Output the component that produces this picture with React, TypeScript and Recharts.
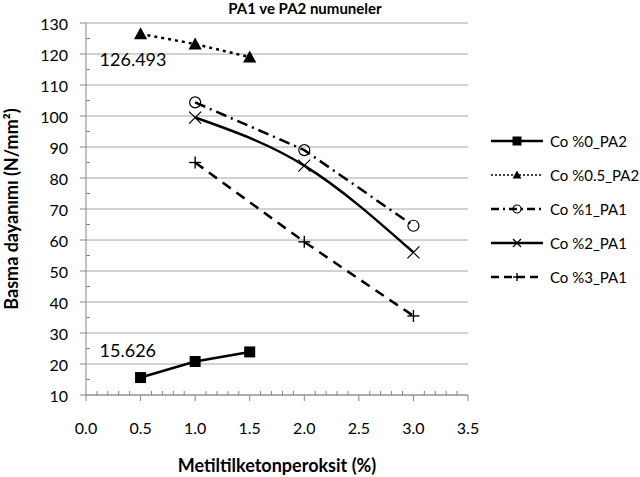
import React from 'react';
import { LineChart, Line, XAxis, YAxis, CartesianGrid, Legend, LabelList } from 'recharts';

const FONT = 'Lato, "Open Sans", sans-serif';
const AXIS = '#868686';

const xPA2 = [0.5, 1.0, 1.5];
const co0PA2 = [15.626, 20.8, 23.9];
const co05PA2 = [126.493, 123.2, 119.0];
const xPA1 = [1.0, 2.0, 3.0];
const co1PA1 = [104.4, 89.0, 64.6];
const co2PA1 = [99.5, 84.0, 56.0];
const co3PA1 = [85.0, 59.4, 35.5];
const yTicks = [10, 20, 30, 40, 50, 60, 70, 80, 90, 100, 110, 120, 130];
const minorX = Array.from({ length: 36 }, (_, i) => i / 10);
const minorY = Array.from({ length: 25 }, (_, i) => 10 + i * 5);

const build = (xs: number[], ys: number[]) => xs.map((x, i) => ({ x, y: ys[i] }));

type MarkerKind = 'square' | 'triangle' | 'circle' | 'x' | 'plus';

const Marker = ({ kind, cx, cy, s }: { kind: MarkerKind; cx: number; cy: number; s: number }) => {
  if (cx == null || cy == null) return null;
  switch (kind) {
    case 'square':
      return <rect x={cx - s} y={cy - s} width={2 * s} height={2 * s} fill="#000" />;
    case 'triangle':
      return <polygon points={`${cx},${cy - s * 1.1} ${cx - s * 1.1},${cy + s * 0.9} ${cx + s * 1.1},${cy + s * 0.9}`} fill="#000" />;
    case 'circle':
      return <circle cx={cx} cy={cy} r={s} fill="none" stroke="#000" strokeWidth={1.2} />;
    case 'x':
      return (
        <g stroke="#000" strokeWidth={1.2}>
          <line x1={cx - s} y1={cy - s} x2={cx + s} y2={cy + s} />
          <line x1={cx - s} y1={cy + s} x2={cx + s} y2={cy - s} />
        </g>
      );
    case 'plus':
      return (
        <g stroke="#000" strokeWidth={1.4}>
          <line x1={cx - s} y1={cy} x2={cx + s} y2={cy} />
          <line x1={cx} y1={cy - s} x2={cx} y2={cy + s} />
        </g>
      );
  }
  return null;
};

const dotOf = (kind: MarkerKind, s: number) => (p: any) => (
  <Marker key={`${kind}-${p.index}`} kind={kind} cx={p.cx} cy={p.cy} s={s} />
);

const seriesDefs = [
  { name: 'Co %0_PA2', data: build(xPA2, co0PA2), dash: undefined, legendDash: undefined, legendW: 2.5, marker: 'square' as MarkerKind, size: 5.5, type: 'linear' },
  { name: 'Co %0.5_PA2', data: build(xPA2, co05PA2), dash: '3 4', legendDash: '2 2', legendW: 1.5, marker: 'triangle' as MarkerKind, size: 6, type: 'linear' },
  { name: 'Co %1_PA1', data: build(xPA1, co1PA1), dash: '11 5 2 5', legendDash: '8 4 2 4', legendW: 2.5, marker: 'circle' as MarkerKind, size: 5.5, type: 'linear' },
  { name: 'Co %2_PA1', data: build(xPA1, co2PA1), dash: undefined, legendDash: undefined, legendW: 2.5, marker: 'x' as MarkerKind, size: 6, type: 'monotone' },
  { name: 'Co %3_PA1', data: build(xPA1, co3PA1), dash: '10 7', legendDash: '8 5', legendW: 2.5, marker: 'plus' as MarkerKind, size: 6, type: 'linear' },
];

const LegendBox = () => (
  <div style={{ fontFamily: FONT, fontSize: 15, color: '#000' }}>
    {seriesDefs.map((s) => (
      <div key={s.name} style={{ display: 'flex', alignItems: 'center', height: 34 }}>
        <svg width={52} height={16}>
          <line x1={0} y1={8} x2={52} y2={8} stroke="#000" strokeWidth={s.legendW} strokeDasharray={s.legendDash} />
          <Marker kind={s.marker} cx={26} cy={8} s={s.marker === 'square' ? 4.5 : 4} />
        </svg>
        <span style={{ marginLeft: 7, whiteSpace: 'nowrap' }}>{s.name}</span>
      </div>
    ))}
  </div>
);

const makeLabel = (dx: number, dy: number) => (p: any) => {
  if (p.index !== 0) return null;
  return (
    <text key="lbl" x={p.x + dx} y={p.y + dy} fontFamily={FONT} fontSize={18} fill="#000" dominantBaseline="middle">
      {p.value}
    </text>
  );
};

const X_TICK_SIZE = 6;
const X_TICK_MARGIN = 22;
const Y_TICK_SIZE = 6;
const Y_TICK_MARGIN = 12;

const XTick = (p: any) => {
  const v = Number(p.payload.value);
  const x = p.x;
  const axisY = p.y - X_TICK_SIZE - X_TICK_MARGIN;
  const major = Math.abs(v * 2 - Math.round(v * 2)) < 1e-6;
  return (
    <g>
      {major ? (
        <line x1={x} x2={x} y1={axisY} y2={axisY + X_TICK_SIZE} stroke={AXIS} />
      ) : (
        <line x1={x} x2={x} y1={axisY} y2={axisY - 4} stroke={AXIS} />
      )}
      {major && (
        <text x={x} y={p.y} dy="0.71em" textAnchor="middle" fontFamily={FONT} fontSize={16} fill="#000">
          {v.toFixed(1)}
        </text>
      )}
    </g>
  );
};

const YTick = (p: any) => {
  const v = Number(p.payload.value);
  const y = p.y;
  const axisX = p.x + Y_TICK_SIZE + Y_TICK_MARGIN;
  const major = v % 10 === 0;
  return (
    <g>
      {major ? (
        <line x1={axisX - Y_TICK_SIZE} x2={axisX} y1={y} y2={y} stroke={AXIS} />
      ) : (
        <line x1={axisX} x2={axisX + 4} y1={y} y2={y} stroke={AXIS} />
      )}
      {major && (
        <text x={p.x} y={y} textAnchor="end" dominantBaseline="central" fontFamily={FONT} fontSize={16} fill="#000">
          {v}
        </text>
      )}
    </g>
  );
};

const YLabel = (p: any) => {
  const vb = p.viewBox || { x: 26, y: 23, height: 372 };
  const cx = vb.x - 13;
  const cy = vb.y + vb.height / 2;
  return (
    <text x={cx} y={cy} transform={`rotate(-90, ${cx}, ${cy})`} textAnchor="middle" dominantBaseline="middle" fontFamily={FONT} fontWeight="bold" fontSize={18} fill="#000">
      Basma dayanımı (N/mm²)
    </text>
  );
};

const XLabel = (p: any) => {
  const vb = p.viewBox || { x: 86, y: 395, width: 382, height: 50 };
  const cx = vb.x + vb.width / 2;
  return (
    <text x={cx} y={vb.y + 72} textAnchor="middle" dominantBaseline="middle" fontFamily={FONT} fontWeight="bold" fontSize={18} fill="#000">
      Metiltilketonperoksit (%)
    </text>
  );
};

export default function App() {
  return (
    <div style={{ position: 'absolute', left: 0, top: 0, width: 640, height: 477, background: '#fff' }}>
      <div style={{ position: 'absolute', left: 185, top: 0, width: 240, textAlign: 'center', fontFamily: FONT, fontWeight: 'bold', fontSize: 15, lineHeight: '17px' }}>
        PA1 ve PA2 numuneler
      </div>
      <LineChart width={640} height={477} margin={{ top: 23, right: 172, bottom: 32, left: 26 }}>
        <CartesianGrid vertical={false} stroke="#a6a6a6" strokeWidth={1} horizontalValues={yTicks} />
        <XAxis
          type="number"
          dataKey="x"
          domain={[0, 3.5]}
          ticks={minorX}
          interval={0}
          allowDataOverflow
          stroke={AXIS}
          tick={XTick}
          tickLine={false}
          tickSize={X_TICK_SIZE}
          tickMargin={X_TICK_MARGIN}
          height={50}
          label={XLabel}
        />
        <YAxis
          type="number"
          domain={[10, 130]}
          ticks={minorY}
          interval={0}
          allowDataOverflow
          stroke={AXIS}
          tick={YTick}
          tickLine={false}
          tickSize={Y_TICK_SIZE}
          tickMargin={Y_TICK_MARGIN}
          width={60}
          label={YLabel}
        />
        <Legend layout="vertical" align="center" verticalAlign="middle" content={LegendBox} wrapperStyle={{ left: 491, top: 124, width: 149 }} />
        {seriesDefs.map((s, i) => (
          <Line
            key={s.name}
            data={s.data}
            dataKey="y"
            name={s.name}
            type={s.type as any}
            stroke="#000"
            strokeWidth={2.5}
            strokeDasharray={s.dash}
            dot={dotOf(s.marker, s.size)}
            activeDot={false}
            isAnimationActive={false}
          >
            {i === 0 && <LabelList dataKey="y" content={makeLabel(-41, -25)} />}
            {i === 1 && <LabelList dataKey="y" content={makeLabel(-41, 28)} />}
          </Line>
        ))}
      </LineChart>
    </div>
  );
}
